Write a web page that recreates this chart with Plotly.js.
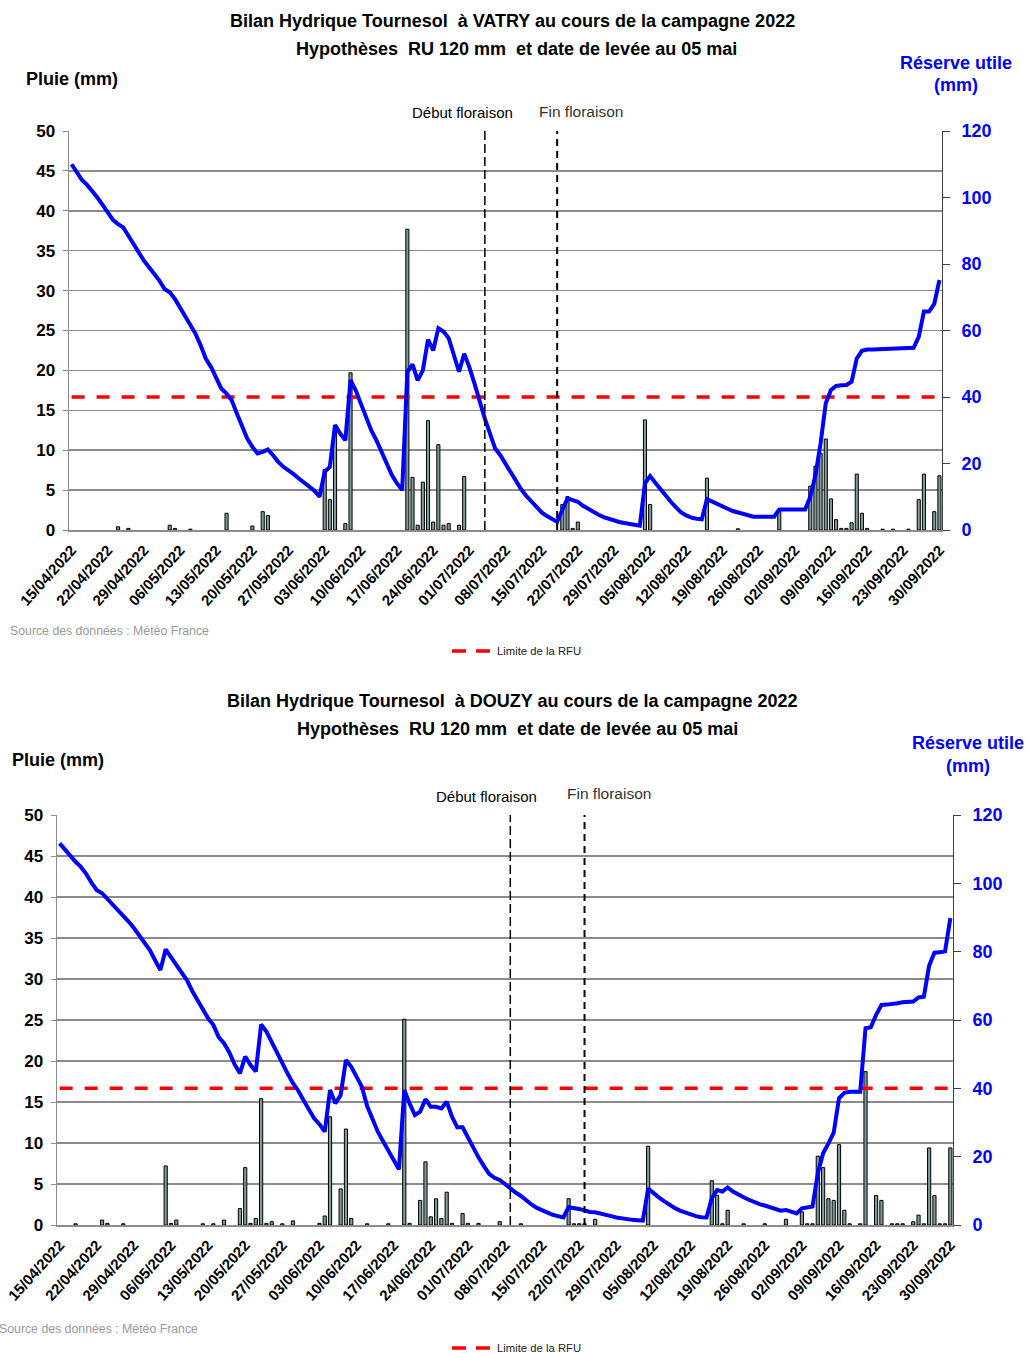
<!DOCTYPE html>
<html>
<head>
<meta charset="utf-8">
<script src="https://cdn.plot.ly/plotly-3.0.1.min.js"></script>
<style>
html,body{margin:0;padding:0;background:#fff;}
#chart{width:1028px;height:1353px;}
</style>
</head>
<body>
<div id="chart"></div>
<script>
// ---------------- DATA ----------------
const startDate = '2022-04-15';   // first day of the campaign (169 daily values)
const tickLabels = ['15/04/2022','22/04/2022','29/04/2022','06/05/2022','13/05/2022','20/05/2022','27/05/2022',
  '03/06/2022','10/06/2022','17/06/2022','24/06/2022','01/07/2022','08/07/2022','15/07/2022','22/07/2022',
  '29/07/2022','05/08/2022','12/08/2022','19/08/2022','26/08/2022','02/09/2022','09/09/2022','16/09/2022',
  '23/09/2022','30/09/2022'];
const rfuLimit = 40;

// VATRY - daily rain (mm), one row per week
const rainVatry = [
  0,0,0,0,0,0,0,
  0,0,0.4,0,0.2,0,0,
  0,0,0,0,0,0.6,0.2,
  0,0,0.1,0,0,0,0,
  0,0,2.1,0,0,0,0,
  0.5,0,2.3,1.8,0,0,0,
  0,0,0,0,0,0,0,
  7.6,3.8,12.5,0,0.8,19.7,0,
  0,0,0,0,0,0,0,
  0,0,37.7,6.6,0.6,6.0,13.7,
  1.0,10.7,0.6,0.8,0,0.6,6.7,
  0,0,0,0,0,0,0,
  0,0,0,0,0,0,0,
  0,0,0,0,3.2,4.2,0.2,
  1.0,0,0,0,0,0,0,
  0,0,0,0,0,0,13.8,
  3.2,0,0,0,0,0,0,
  0,0,0,0,6.5,0,0,
  0,0,0,0.15,0,0,0,
  0,0,0,0,2.3,0,0,
  0,0,0,5.5,8.0,9.6,11.4,
  3.9,1.3,0.2,0.2,0.9,7.0,2.1,
  0.2,0,0,0.1,0,0.1,0,
  0,0.1,0,3.8,7.0,0,2.3,
  6.8
];
// VATRY - daily useful reserve (mm)
const reserveVatry = [
  110.0,107.5,105.3,103.8,102.0,100.0,97.8,
  95.5,93.3,92.0,91.0,88.5,86.0,83.0,
  81.0,79.0,77.0,75.0,72.5,71.5,69.5,
  67.0,64.5,62.0,59.0,55.5,51.5,49.0,
  45.5,42.5,41.0,39.0,35.0,31.0,27.5,
  25.0,23.0,23.5,24.2,22.5,20.5,19.0,
  18.0,16.8,15.5,14.3,13.0,11.8,10.0,
  17.5,19.0,31.6,29.0,27.0,45.1,42.0,
  38.0,34.0,30.0,27.0,23.5,20.0,16.5,
  14.0,12.0,47.6,49.8,45.0,48.0,57.3,
  54.0,60.7,59.7,57.7,53.0,47.6,53.0,
  49.0,44.0,38.5,33.5,29.0,24.5,22.5,
  20.0,17.0,14.5,12.3,10.3,8.7,6.8,
  5.3,4.2,3.3,2.5,6.0,9.5,9.0,
  8.5,7.3,6.3,5.3,4.6,3.9,3.3,
  2.8,2.4,2.1,1.8,1.5,1.3,14.0,
  16.2,14.2,12.2,10.5,8.5,6.8,5.3,
  4.4,3.7,3.4,3.2,9.3,8.5,7.8,
  7.1,6.4,5.7,5.2,4.8,4.3,4.0,
  4.0,4.0,4.0,4.0,6.2,6.2,6.2,
  6.2,6.2,6.2,10.0,16.5,26.1,38.1,
  42.1,43.3,43.5,43.6,44.6,51.6,53.9,
  54.3,54.3,54.4,54.4,54.5,54.6,54.7,
  54.7,54.8,54.8,58.1,65.7,65.7,68.0,
  75.2
];
const floweringVatry = ['2022-07-04', '2022-07-18'];

// DOUZY - daily rain (mm)
const rainDouzy = [
  0,0,0,0.15,0,0,0,
  0,0.6,0.2,0,0,0.15,0,
  0,0,0,0,0,0,7.2,
  0.2,0.6,0,0,0,0,0.15,
  0,0.15,0,0.6,0,0,2.0,
  7.0,0.2,0.8,15.4,0.2,0.4,0,
  0.15,0,0.5,0,0,0,0,
  0.2,1.1,13.2,0,4.4,11.7,0.8,
  0,0,0.15,0,0,0,0.15,
  0,0,25.1,0.2,0,3.0,7.7,
  1.0,3.2,0.8,4.0,0.2,0,1.4,
  0.2,0,0.2,0,0,0,0.4,
  0,0,0,0.15,0,0,0,
  0,0,0,0,0,3.2,0.15,
  0.15,0.15,0,0.7,0,0,0,
  0,0,0,0,0,0,9.6,
  0,0,0,0,0,0,0,
  0,0,0,0,5.4,3.6,0.15,
  1.8,0,0,0.15,0,0,0,
  0.15,0,0,0,0.7,0,0,
  1.6,0.15,0.15,8.4,7.0,3.2,3.0,
  9.8,1.8,0.15,0,0.15,18.7,0,
  3.6,3.0,0,0.15,0.15,0.15,0,
  0.4,1.2,0.15,9.4,3.6,0.15,0.15,
  9.4
];
// DOUZY - daily useful reserve (mm)
const reserveDouzy = [
  111.7,109.8,107.8,106.3,104.8,102.8,100.2,
  98.0,97.1,95.5,93.7,92.2,90.7,88.8,
  86.9,84.8,82.6,80.5,77.5,74.6,80.7,
  78.6,76.1,73.9,71.7,68.5,65.8,63.0,
  60.5,58.5,55.0,53.2,50.5,47.0,44.4,
  49.3,46.8,44.9,58.7,56.6,53.5,50.0,
  47.0,44.3,41.5,39.3,36.5,33.8,31.2,
  29.5,27.3,39.5,35.6,38.0,48.3,46.3,
  43.5,40.5,34.8,31.0,27.3,24.5,21.5,
  19.0,16.3,39.5,35.6,32.2,33.2,36.8,
  34.6,34.6,34.1,36.1,31.7,28.6,28.6,
  25.5,22.5,19.8,17.3,15.0,13.8,13.2,
  12.0,10.7,9.5,8.5,7.1,6.0,5.0,
  4.3,3.6,3.0,2.6,2.2,5.2,5.0,
  4.7,4.3,3.8,3.7,3.4,3.0,2.6,
  2.2,1.9,1.7,1.5,1.4,1.3,10.7,
  9.3,8.1,7.0,5.9,5.0,4.2,3.6,
  3.0,2.6,2.3,2.2,7.8,10.2,9.8,
  11.0,9.8,8.8,8.1,7.4,6.7,6.1,
  5.7,5.3,4.9,4.2,4.4,3.9,3.4,
  4.9,5.1,5.4,15.1,21.0,23.9,27.0,
  37.1,38.7,39.0,39.0,39.0,57.6,57.9,
  61.5,64.4,64.5,64.6,64.9,65.2,65.3,
  65.4,66.6,66.8,75.9,79.7,79.8,80.1,
  89.8
];
const floweringDouzy = ['2022-07-09', '2022-07-23'];

// ---------------- BUILD ----------------
const W = 1028, H = 1353;
const DAY = 86400000;
function px(x){ return x / W; }
function py(y){ return 1 - y / H; }
function dayStr(i){
  const d = new Date(Date.parse(startDate + 'T00:00:00Z') + i * DAY);
  return d.toISOString().slice(0, 10);
}
const dates = rainVatry.map((_, i) => dayStr(i));
const tickVals = tickLabels.map(s => { const p = s.split('/'); return p[2] + '-' + p[1] + '-' + p[0]; });
const xStart = Date.parse(startDate + 'T00:00:00Z') - DAY / 2;
const xEnd = Date.parse(dates[dates.length - 1] + 'T00:00:00Z') + DAY / 2;
const xRange = [new Date(xStart).toISOString(), new Date(xEnd).toISOString()];

const FONT = 'Liberation Sans, Arial, sans-serif';
const BAR_FILL = '#7f9a9a';

function traces(rain, reserve, xa, yl, yr){
  // days without rain draw no bar
  const rainShown = rain.map(v => v > 0 ? v : null);
  return [
    {type:'bar', x:dates, y:rainShown, xaxis:xa, yaxis:yl, width:0.6*DAY,
     marker:{color:BAR_FILL, line:{color:'#000', width:1}}, showlegend:false, hoverinfo:'x+y'},
    {type:'scatter', mode:'lines', x:[dates[0], dates[dates.length-1]], y:[rfuLimit, rfuLimit],
     xaxis:xa, yaxis:yr, line:{color:'#ff0000', width:3.5, dash:'13px,12px'}, showlegend:false, hoverinfo:'skip'},
    {type:'scatter', mode:'lines', x:dates, y:reserve, xaxis:xa, yaxis:yr,
     line:{color:'#0000ff', width:4}, showlegend:false}
  ];
}

const data = [].concat(
  traces(rainVatry, reserveVatry, 'x', 'y', 'y2'),
  traces(rainDouzy, reserveDouzy, 'x2', 'y3', 'y4')
);

function xAxis(domain, anchor){
  return {domain:domain, anchor:anchor, type:'date', range:xRange, tickmode:'array', tickvals:tickVals, ticktext:tickLabels,
    tickangle:-48, tickfont:{family:FONT, size:15, color:'#000', weight:'bold'}, showgrid:false, zeroline:false,
    showline:true, linecolor:'#8c8c8c', linewidth:1.5, ticks:'', fixedrange:true, ticklabelstandoff:4};
}
function yLeft(domain, anchor){
  return {domain:domain, anchor:anchor, range:[0,50], dtick:5, tick0:0, tickfont:{family:FONT, size:17, color:'#000', weight:'bold'},
    showgrid:true, gridcolor:'#8c8c8c', gridwidth:1.5, zeroline:false, showline:true, linecolor:'#8c8c8c', linewidth:1.5,
    ticks:'outside', ticklen:5, tickcolor:'#8c8c8c', ticklabelstandoff:4};
}
function yRight(over, anchor){
  return {overlaying:over, anchor:anchor, side:'right', range:[0,120], dtick:20, tick0:0,
    tickfont:{family:FONT, size:18, color:'#0000ff', weight:'bold'}, showgrid:false, zeroline:false,
    showline:true, linecolor:'#404040', linewidth:1, ticks:'outside', ticklen:7, tickcolor:'#404040', ticklabelstandoff:8};
}

function ann(x, y, text, size, opts){
  opts = opts || {};
  return {xref:'paper', yref:'paper', x:px(x), y:py(y), text:text, showarrow:false,
    xanchor:opts.xanchor || 'left', yanchor:'middle',
    font:{family:opts.family || FONT, size:size, color:opts.color || '#000', weight:opts.weight || 'normal'}};
}

const NB = '\u00a0';
const annotations = [
  // VATRY
  ann(512, 21, 'Bilan Hydrique Tournesol ' + NB + 'à VATRY au cours de la campagne 2022', 18, {xanchor:'center', weight:'bold'}),
  ann(516, 49, 'Hypothèses ' + NB + 'RU 120 mm ' + NB + 'et date de levée au 05 mai', 18, {xanchor:'center', weight:'bold'}),
  ann(24, 79, 'Pluie (mm)', 18, {weight:'bold'}),
  ann(956, 63, 'Réserve utile', 18, {xanchor:'center', weight:'bold', color:'#0000ff'}),
  ann(956, 85, '(mm)', 18, {xanchor:'center', weight:'bold', color:'#0000ff'}),
  ann(410, 113, 'Début floraison', 15),
  ann(537, 112, 'Fin floraison', 15.5, {color:'#333'}),
  ann(8, 631, 'Source des données : Météo France', 12.3, {color:'#999'}),
  ann(495, 651, 'Limite de la RFU', 11.3, {color:'#222'}),
  // DOUZY
  ann(512, 701, 'Bilan Hydrique Tournesol ' + NB + 'à DOUZY au cours de la campagne 2022', 18, {xanchor:'center', weight:'bold'}),
  ann(517, 729, 'Hypothèses ' + NB + 'RU 120 mm ' + NB + 'et date de levée au 05 mai', 18, {xanchor:'center', weight:'bold'}),
  ann(10, 760, 'Pluie (mm)', 18, {weight:'bold'}),
  ann(968, 743, 'Réserve utile', 18, {xanchor:'center', weight:'bold', color:'#0000ff'}),
  ann(968, 766, '(mm)', 18, {xanchor:'center', weight:'bold', color:'#0000ff'}),
  ann(434, 796, 'Début floraison', 15),
  ann(565, 794, 'Fin floraison', 15.5, {color:'#333'}),
  ann(-3, 1329, 'Source des données : Météo France', 12.3, {color:'#999'}),
  ann(495, 1348, 'Limite de la RFU', 11.3, {color:'#222'})
];

function vline(xa, yd, date, dash, width){
  return {type:'line', xref:xa, yref:yd, x0:date, x1:date, y0:0, y1:1,
    line:{color:'#000', width:width, dash:dash}, layer:'above'};
}
function legendDash(y){
  return {type:'line', xref:'paper', yref:'paper', x0:px(452), x1:px(490), y0:py(y), y1:py(y),
    line:{color:'#ff0000', width:3.5, dash:'14px,10px'}};
}
const shapes = [
  vline('x', 'y domain', floweringVatry[0], '9px,4px', 1.5),
  vline('x', 'y domain', floweringVatry[1], '7px,5px', 2),
  vline('x2', 'y3 domain', floweringDouzy[0], '9px,4px', 1.5),
  vline('x2', 'y3 domain', floweringDouzy[1], '7px,5px', 2),
  legendDash(651),
  legendDash(1348)
];

const layout = {
  width:W, height:H, margin:{l:0, r:0, t:0, b:0}, paper_bgcolor:'#fff', plot_bgcolor:'#fff',
  showlegend:false, bargap:0, barmode:'overlay',
  font:{family:FONT},
  xaxis: xAxis([px(69), px(942)], 'y'),
  yaxis: yLeft([py(530), py(131)], 'x'),
  yaxis2: yRight('y', 'x'),
  xaxis2: xAxis([px(57), px(953)], 'y3'),
  yaxis3: yLeft([py(1225), py(815)], 'x2'),
  yaxis4: yRight('y3', 'x2'),
  annotations: annotations,
  shapes: shapes
};

Plotly.newPlot('chart', data, layout, {displayModeBar:false, staticPlot:true});
</script>
</body>
</html>
